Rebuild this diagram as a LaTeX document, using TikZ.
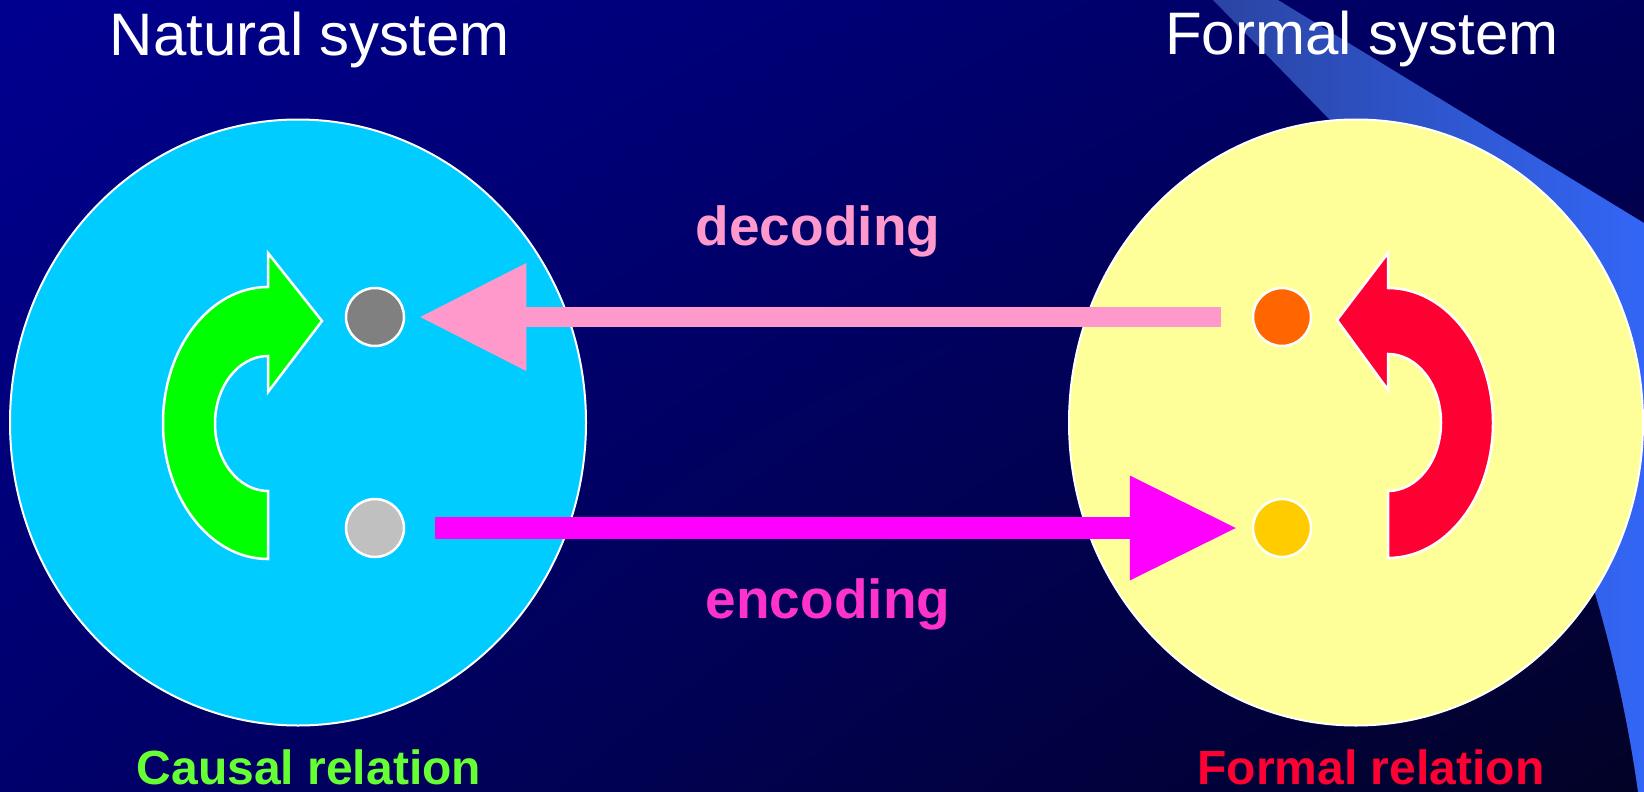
\documentclass[tikz,border=0pt]{standalone}
\usepackage{fontspec}
\setmainfont{Liberation Sans}
\usetikzlibrary{arrows.meta,shapes.geometric,shadings}

% palette
\definecolor{bgTL}{HTML}{000090}
\definecolor{bgTR}{HTML}{00005C}
\definecolor{bgBL}{HTML}{00006C}
\definecolor{bgBR}{HTML}{020226}
\definecolor{bandL}{HTML}{2A44A2}
\definecolor{bandR}{HTML}{3366F6}
\definecolor{natfill}{HTML}{00CCFF}
\definecolor{formfill}{HTML}{FFFF99}
\definecolor{causal}{HTML}{00FF00}
\definecolor{causaltext}{HTML}{66FF33}
\definecolor{formalrel}{HTML}{FF0033}
\definecolor{darkdot}{HTML}{808080}
\definecolor{lightdot}{HTML}{C0C0C0}
\definecolor{orangedot}{HTML}{FF6600}
\definecolor{golddot}{HTML}{FFCC00}
\definecolor{decpink}{HTML}{FF99CC}
\definecolor{encmag}{HTML}{FF00FF}
\definecolor{enctext}{HTML}{FF33CC}

\begin{document}
\begin{tikzpicture}[x=1pt,y=-1pt,
  system/.style={ellipse, draw=white, line width=2pt, inner sep=0pt,
    minimum height=606pt},
  dot/.style={circle, draw=white, line width=2.5pt, inner sep=0pt,
    minimum size=58pt},
  curl/.style={draw=white, line width=2.5pt, line join=miter},
  decarrow/.style={draw=decpink, line width=20pt,
    -{Triangle[length=106pt,width=108pt,line width=0pt]}},
  encarrow/.style={draw=encmag, line width=22pt,
    -{Triangle[length=106pt,width=105pt,line width=0pt]}},
  title/.style={anchor=base, inner sep=0pt, text=white,
    font=\fontsize{60}{72}\selectfont},
  linklabel/.style={anchor=base, inner sep=0pt,
    font=\bfseries\fontsize{55}{66}\selectfont},
  relation/.style={anchor=base, inner sep=0pt,
    font=\bfseries\fontsize{48}{58}\selectfont}]

\useasboundingbox (0,0) rectangle (1644,792);

% background and the diagonal band
\shade[upper left=bgTL, upper right=bgTR, lower left=bgBL, lower right=bgBR]
  (0,0) rectangle (1644,792);
\shade[left color=bandL, right color=bandR]
  (1213,0) -- (1278,0) -- (1644,223) -- (1644,792) -- (1638,792)
  .. controls (1628,720) and (1612,650) .. (1594,590)
  -- (1500,300) -- (1330,120) -- cycle;

% the two systems
\node[system, fill=natfill, minimum width=576pt] (natural) at (298,422.5) {};
\node[system, fill=formfill, minimum width=574pt] (formal) at (1356,422.5) {};

% states
\node[dot, fill=darkdot]   (n1) at (375,317) {};
\node[dot, fill=lightdot]  (n2) at (375,528) {};
\node[dot, fill=orangedot] (f1) at (1282,317) {};
\node[dot, fill=golddot]   (f2) at (1282,528) {};

% causal relation (natural side)
\filldraw[curl, fill=causal]
  (268,559) arc[start angle=90, end angle=270, x radius=105, y radius=136]
  -- (268,253) -- (322,321) -- (268,392) -- (268,356)
  arc[start angle=270, end angle=90, x radius=53, y radius=67.5]
  -- cycle;

% formal relation (formal side)
\filldraw[curl, fill=formalrel]
  (1388,558) arc[start angle=90, end angle=-90, x radius=105, y radius=135]
  -- (1388,253) -- (1337,320) -- (1388,390) -- (1388,354)
  arc[start angle=-90, end angle=90, x radius=53, y radius=68.5]
  -- cycle;

% decoding and encoding
\draw[decarrow] ([xshift=-31pt]f1.west) -- ([xshift=15pt]n1.east);
\draw[encarrow] ([xshift=30pt]n2.east) -- ([xshift=-16pt]f2.west);

% labels
\node[title] (tnat) at (310,56) {Natural system};
\node[title] (tform) at (1362,55) {Formal system};
\node[linklabel, text=decpink] (tdec) at (818,245) {decoding};
\node[linklabel, text=enctext] (tenc) at (828,618) {encoding};
\node[relation, text=causaltext] (tcausal) at (309,784) {Causal relation};
\node[relation, text=formalrel] (tformal) at (1371,784) {Formal relation};

\end{tikzpicture}
\end{document}
